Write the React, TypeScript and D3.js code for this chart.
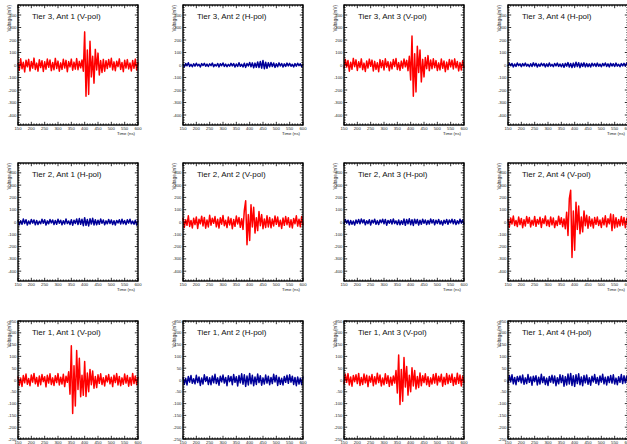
import * as d3 from "d3";

// samples start at 150 ns, one value every 5 ns up to 600 ns
const startNs = 150;
const stepNs = 5;

// Tier 3
const t3a1 = [18,-42,50,-30,22,-55,38,-14,45,-48,28,-25,55,-36,15,-49,42,-20,34,-52,26,-33,48,-18,40,-45,20,-38,53,-28,31,-50,17,-35,46,-24,37,-54,27,-15,47,-42,23,-33,51,-38,29,-22,40,
  -50,265,-250,120,-235,190,-95,70,-145,125,-40,95,-80,35,-60,45,
  -50,34,-28,44,-17,54,-39,25,-46,30,-13,49,-35,20,-53,38,-24,43,-31,16,-48,36,-26,47,-40,22];
const t3a2 = [8,-15,12,-6,18,-11,5,-14,10,-9,14,-7,6,-16,11,-4,13,-10,7,-12,9,-5,15,-13,4,-8,12,-15,10,-6,
  16,-11,7,-14,5,-9,13,-7,11,-16,8,-12,18,-10,6,-15,14,-19,12,-8,20,-14,17,-22,15,-18,24,-20,28,-25,
  36,-30,22,-26,18,-15,20,-12,16,-19,10,-14,17,-8,12,-16,9,-11,15,-7,13,-10,6,-15,11,-9,14,-5,10,-13,8];
const t3a3 = [-28,45,-16,36,-50,22,-34,53,-13,41,-44,26,-20,49,-37,15,-52,32,-24,47,-10,39,-48,29,-35,18,-54,43,-21,35,-40,50,-17,27,-46,23,-31,44,-12,52,-36,19,-43,31,-25,48,-14,37,-45,
  70,-120,232,-250,90,-215,150,-60,120,-135,45,-95,60,-30,75,-45,
  40,-30,50,-21,35,-44,17,-39,48,-26,32,-53,23,-36,44,-15,39,-32,49,-22,28,-47,19,-40,34,-25];
const t3a4 = [-10,14,-6,12,-15,8,-11,16,-5,9,-13,11,-7,15,-9,6,-14,10,-12,17,-8,13,-16,7,-10,14,-6,11,-15,9,
  -12,16,-9,5,-13,12,-7,15,-11,8,-14,10,-18,13,-9,19,-16,12,-20,15,-17,22,-13,18,-21,14,-11,17,-15,12,
  -13,9,-16,14,-8,11,-12,15,-10,7,-14,12,-6,16,-11,9,-15,13,-8,10,-12,15,-9,6,-14,11,-7,13,-10,16,-8];

// Tier 2
const t2a1 = [15,-22,10,-18,24,-12,19,-25,8,-16,21,-9,17,-23,13,-20,6,-14,22,-11,18,-24,9,-15,20,-7,16,-21,12,-19,
  23,-10,14,-22,11,-17,25,-13,8,-20,19,-26,15,-12,24,-21,28,-18,22,-30,35,-27,20,-32,26,-16,30,-24,18,-22,
  14,-19,25,-11,17,-23,9,-15,21,-12,16,-20,10,-24,13,-8,19,-17,22,-14,11,-21,18,-9,23,-15,7,-19,14,-25,12];
const t2a2 = [34,-44,19,-27,50,-36,13,-48,30,-21,41,-53,23,-15,47,-32,37,-50,17,-40,54,-26,31,-11,44,-39,22,-49,35,-18,52,-30,14,-45,40,-24,28,-54,20,-35,48,-16,36,-43,26,
  -60,95,172,-185,60,-150,140,-40,120,-90,35,-70,85,-30,60,-55,25,-45,50,-40,
  37,-47,24,-32,49,-19,40,-36,15,-52,32,-27,44,-22,35,-41,18,-48,29,-14,50,-33,23,-39,45,-28];
const t2a3 = [-17,21,-9,14,-23,12,-19,8,-25,16,-11,20,-15,24,-7,18,-22,10,-13,19,-24,15,-8,22,-18,11,-21,17,-6,23,
  -14,20,-26,13,-10,19,-16,25,-12,9,-20,16,-23,11,-18,24,-27,21,-15,26,-22,18,-28,23,-13,20,-25,14,-19,22,
  -10,17,-21,12,-16,24,-8,19,-23,15,-12,21,-17,9,-24,14,-11,20,-19,16,-7,22,-15,18,-21,10,-14,23,-9,17,-20];
const t2a4 = [24,-42,33,-16,48,-28,12,-37,40,-21,29,-46,19,-32,44,-11,36,-40,15,-25,45,-35,21,-17,39,-44,27,-13,49,-29,17,-36,41,-23,32,-45,11,-28,47,-19,35,-38,25,
  -55,80,-110,190,258,-288,90,-230,160,-60,130,-95,40,-80,90,-30,55,-50,
  42,-33,24,-48,36,-19,40,-28,16,-44,32,-23,50,-39,27,-15,65,-70,58,-48,35,-40,20,-31,45,-25,37,-46,28,-35];

// Tier 1
const t1a1 = [15,-22,8,-27,19,-12,25,-18,6,-24,21,-9,28,-16,11,-26,17,-20,23,-7,14,-29,20,-13,26,-19,9,-23,18,-11,27,-21,12,-17,24,-28,16,-10,
  35,-60,145,-142,60,-110,125,-40,92,-71,20,-65,78,-70,30,-50,45,-20,38,-35,15,-32,
  22,-14,26,-19,10,-25,18,-8,23,-16,12,-28,20,-11,27,-21,15,-24,9,-18,25,-13,19,-26,11,-22,28,-15,17,-20,13];
const t1a2 = [12,-18,7,-21,15,-9,19,-14,5,-16,20,-11,13,-23,8,-17,22,-6,14,-19,10,-20,17,-12,24,-15,9,-22,16,-8,
  21,-13,11,-24,18,-7,15,-20,23,-10,14,-25,19,-12,26,-18,22,-27,17,-21,28,-16,20,-24,13,-19,25,-11,18,-22,
  9,-17,21,-13,16,-20,11,-15,24,-8,19,-23,12,-18,7,-21,15,-10,20,-14,22,-9,16,-19,11,-24,13,-17,8,-20,15];
const t1a3 = [-18,24,-10,27,-21,13,-26,19,-7,22,-15,28,-23,11,-19,25,-12,20,-28,16,-9,23,-24,14,-17,29,-11,21,-25,8,-20,26,-14,18,-27,12,-22,17,-13,
  40,-55,106,-104,45,-90,95,-30,57,-64,20,-50,52,-25,40,-38,15,-32,30,
  -24,18,-11,26,-20,14,-27,9,-17,23,-13,28,-21,16,-8,24,-26,12,-19,27,-15,20,-10,25,-23,11,-18,29,-14,21,-25,17,-12];
const t1a4 = [-14,19,-8,22,-16,11,-20,15,-6,17,-12,21,-18,9,-15,23,-10,13,-22,16,-7,18,-21,12,-17,24,-11,14,-19,8,
  -23,15,-9,20,-13,17,-24,10,-16,22,-11,19,-26,14,-21,25,-17,28,-23,18,-27,22,-15,26,-20,13,-24,19,-12,21,
  -18,10,-22,16,-8,23,-14,11,-20,17,-9,24,-16,12,-21,15,-11,19,-13,22,-17,8,-20,14,-10,23,-15,18,-12,16,-19];

const titles = [
  ["Tier 3, Ant 1 (V-pol)", "Tier 3, Ant 2 (H-pol)", "Tier 3, Ant 3 (V-pol)", "Tier 3, Ant 4 (H-pol)"],
  ["Tier 2, Ant 1 (H-pol)", "Tier 2, Ant 2 (V-pol)", "Tier 2, Ant 3 (H-pol)", "Tier 2, Ant 4 (V-pol)"],
  ["Tier 1, Ant 1 (V-pol)", "Tier 1, Ant 2 (H-pol)", "Tier 1, Ant 3 (V-pol)", "Tier 1, Ant 4 (H-pol)"],
];
const series = [
  [t3a1, t3a2, t3a3, t3a4],
  [t2a1, t2a2, t2a3, t2a4],
  [t1a1, t1a2, t1a3, t1a4],
];
const xTicks = [150, 200, 250, 300, 350, 400, 450, 500, 550, 600];
const yTicksBig = [-400, -300, -200, -100, 0, 100, 200, 300, 400];
const yTicksSmall = [-250, -200, -150, -100, -50, 0, 50, 100, 150, 200, 250];
const yMaxByRow = [480, 480, 250];

const colLeft = [18, 183, 344, 508];
const rowTop = [5, 163, 321];
const frameW = 120;
const frameH = [120, 118, 118];
const font = "'Liberation Sans', Arial, Helvetica, sans-serif";

function Panel({ title, values, color, left, top, w, h, yMax, yTicks, yMinorStep }) {
  const x = d3.scaleLinear().domain([150, 600]).range([left, left + w]);
  const y = d3.scaleLinear().domain([-yMax, yMax]).range([top + h, top]);
  const line = d3.line<number>()
    .x((_, i) => x(startNs + i * stepNs))
    .y((d) => y(d));
  const xMinor = d3.range(150, 601, 10);
  const yMinor = d3.range(-yMax, yMax + 0.1, yMinorStep);
  const maj = 3.2, mnr = 1.6;

  return (
    <g>
      <path d={line(values) ?? ""} fill="none" stroke={color} strokeWidth={1.5} strokeLinejoin="round" />
      {/* frame + inner ticks */}
      <rect x={left} y={top} width={w} height={h} fill="none" stroke="#000" strokeWidth={1.4} />
      {xMinor.map((t) => {
        const len = xTicks.includes(t) ? maj : mnr;
        return (
          <g key={"x" + t}>
            <line x1={x(t)} x2={x(t)} y1={top + h} y2={top + h - len} stroke="#000" strokeWidth={0.8} />
            <line x1={x(t)} x2={x(t)} y1={top} y2={top + len} stroke="#000" strokeWidth={0.8} />
          </g>
        );
      })}
      {yMinor.map((v) => {
        const len = yTicks.includes(v) ? maj : mnr;
        return (
          <g key={"y" + v}>
            <line x1={left} x2={left + len} y1={y(v)} y2={y(v)} stroke="#000" strokeWidth={0.8} />
            <line x1={left + w} x2={left + w - len} y1={y(v)} y2={y(v)} stroke="#000" strokeWidth={0.8} />
          </g>
        );
      })}
      {xTicks.map((t) => (
        <text key={"xl" + t} x={x(t)} y={top + h + 4.6} fontSize={4.3} textAnchor="middle" fill="#222" fontFamily={font}>
          {t}
        </text>
      ))}
      {yTicks.map((v) => (
        <text key={"yl" + v} x={left - 1.5} y={y(v) + 1.5} fontSize={4.3} textAnchor="end" fill="#222" fontFamily={font}>
          {v}
        </text>
      ))}
      <text x={left + w - 3} y={top + h + 9.5} fontSize={4.3} textAnchor="end" fill="#222" fontFamily={font}>
        Time (ns)
      </text>
      <text
        transform={`translate(${left - 7},${top}) rotate(-90)`}
        fontSize={4.6}
        textAnchor="end"
        fill="#222"
        fontFamily={font}
      >
        Voltage (mV)
      </text>
      <text x={left + 14} y={top + 14} fontSize={8} fill="#111" fontFamily={font}>
        {title}
      </text>
    </g>
  );
}

export default function App() {
  return (
    <svg
      width={627}
      height={444}
      style={{ position: "absolute", left: 0, top: 0, background: "#fff", display: "block" }}
    >
      {titles.map((row, r) =>
        row.map((title, c) => (
          <Panel
            key={title}
            title={title}
            values={series[r][c]}
            color={title.includes("V-pol") ? "#ff0000" : "#000099"}
            left={colLeft[c]}
            top={rowTop[r]}
            w={frameW}
            h={frameH[r]}
            yMax={yMaxByRow[r]}
            yTicks={r === 2 ? yTicksSmall : yTicksBig}
            yMinorStep={r === 2 ? 10 : 20}
          />
        ))
      )}
    </svg>
  );
}
